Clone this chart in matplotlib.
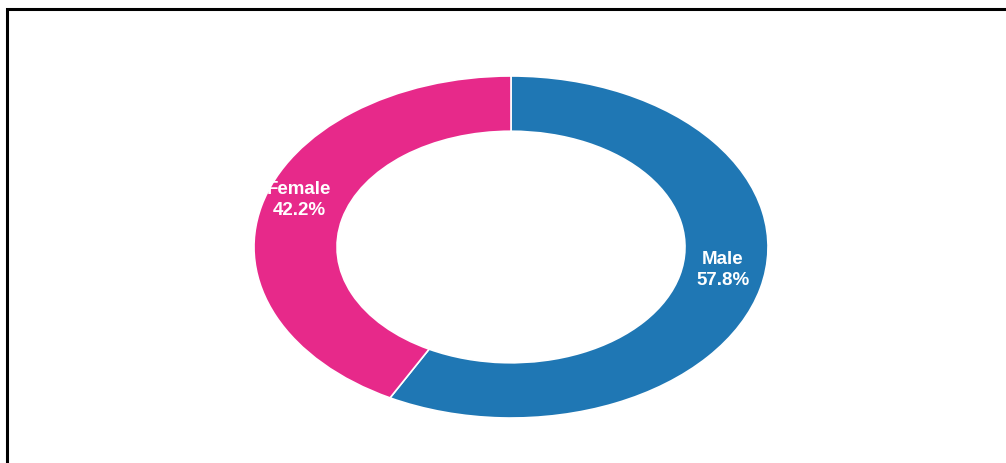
import numpy as np
import matplotlib
matplotlib.use("Agg")
import matplotlib.pyplot as plt
from matplotlib.patches import Rectangle

# Gender split of respondents
labels = ["Male", "Female"]
shares = [57.8, 42.2]
colors = ["#1f77b4", "#e7298a"]

plt.rcParams['font.family'] = ['Liberation Sans', 'DejaVu Sans']

fig = plt.figure(figsize=(10.06, 4.64), dpi=100)
fig.patch.set_facecolor("white")

# axes stretched wider than tall so the ring comes out as an ellipse
ax = fig.add_axes([254 / 1006, 45 / 464, 514 / 1006, 342 / 464])
ring = 0.323
wedges, _ = ax.pie(shares, colors=colors, startangle=90, counterclock=False,
                   radius=1.0, wedgeprops=dict(width=ring, edgecolor="white", linewidth=1.2))
ax.set_xlim(-1, 1)
ax.set_ylim(-1, 1)
ax.set_aspect("auto")
ax.axis("off")

# labels sit in the middle of each wedge
total = sum(shares)
start = 0.0
for name, val in zip(labels, shares):
    mid = (start + val / 2) / total * 2 * np.pi  # clockwise from 12 o'clock
    r = 0.85
    x = r * np.sin(mid)
    y = r * np.cos(mid) + 0.075
    ax.text(x, y, f"{name}\n{val:.1f}%", ha="center", va="center", color="white",
            fontsize=13.5, fontweight="bold", linespacing=1.3)
    start += val

# frame along the top and left edges
fig.add_artist(Rectangle((6.5 / 1006, -0.1), 1.2, 1.1 - 9.5 / 464, transform=fig.transFigure,
                         fill=False, edgecolor="black", linewidth=2.2))

fig.savefig("out.png", dpi=100, facecolor="white")
